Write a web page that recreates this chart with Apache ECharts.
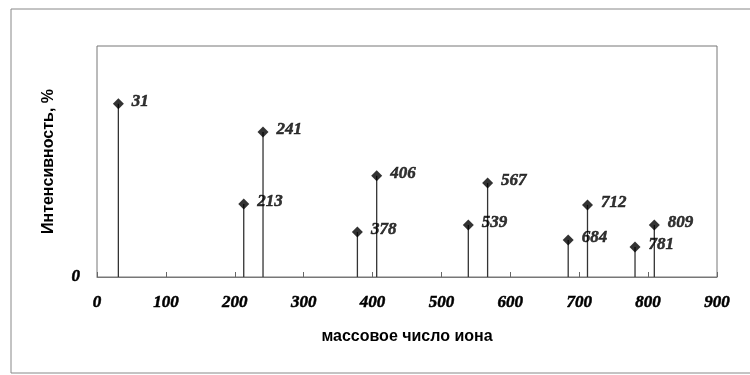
<!DOCTYPE html>
<html><head><meta charset="utf-8">
<script src="https://cdn.jsdelivr.net/npm/echarts@6/dist/echarts.min.js"></script>
<style>html,body{margin:0;padding:0;background:#fff}#c{width:750px;height:375px}</style>
</head><body><div id="c"></div>
<script>
const masses = [31, 213, 241, 378, 406, 539, 567, 684, 712, 781, 809];
const intensities = [75, 31.6, 62.8, 19.5, 43.8, 22.5, 40.7, 16, 31.2, 13, 22.5];
const xTicks = [0, 100, 200, 300, 400, 500, 600, 700, 800, 900];
const yTicks = [0];

const pts = masses.map((m, i) => [m, intensities[i]]);
const serifLbl = {fontFamily: 'Liberation Serif', fontWeight: 'bold', fontStyle: 'italic', color: '#000', textBorderColor: '#000', textBorderWidth: 0.5};

const chart = echarts.init(document.getElementById('c'), null, {renderer: 'canvas'});
chart.setOption({
  animation: false,
  backgroundColor: '#fff',
  graphic: [{
    type: 'rect', shape: {x: 11, y: 9, width: 760, height: 364},
    style: {fill: 'none', stroke: '#888', lineWidth: 1}, z: -1
  }],
  grid: {left: 97, right: 33, top: 46, bottom: 98, show: true, borderColor: '#777', borderWidth: 1, backgroundColor: 'transparent'},
  xAxis: {
    type: 'value', min: 0, max: 900, interval: 100,
    name: 'массовое число иона', nameLocation: 'middle', nameGap: 52,
    nameTextStyle: {fontFamily: 'Liberation Sans', fontWeight: 'bold', fontSize: 16, color: '#000'},
    axisLine: {show: true, lineStyle: {color: '#777'}},
    axisTick: {show: true, inside: true, length: 5, lineStyle: {color: '#666'}},
    splitLine: {show: false},
    axisLabel: Object.assign({fontSize: 17, margin: 17, formatter: v => xTicks.includes(v) ? String(v) : ''}, serifLbl)
  },
  yAxis: {
    type: 'value', min: 0, max: 100, interval: 100,
    name: 'Интенсивность, %', nameLocation: 'middle', nameGap: 40,
    nameTextStyle: {fontFamily: 'Liberation Sans', fontWeight: 'bold', fontSize: 16, color: '#000'},
    axisLine: {show: false}, axisTick: {show: false}, splitLine: {show: false},
    axisLabel: Object.assign({fontSize: 17, margin: 17, formatter: v => yTicks.includes(v) ? String(v) : ''}, serifLbl)
  },
  series: [
    {
      type: 'bar', data: pts, barWidth: 1.3, silent: true,
      itemStyle: {color: '#333'}
    },
    {
      type: 'scatter', data: pts, symbol: 'diamond', symbolSize: 11,
      itemStyle: {color: '#000'},
      label: Object.assign({show: true, position: 'right', distance: 8, offset: [0, -2], fontSize: 17, formatter: p => String(p.value[0])}, serifLbl)
    }
  ]
});
</script></body></html>
